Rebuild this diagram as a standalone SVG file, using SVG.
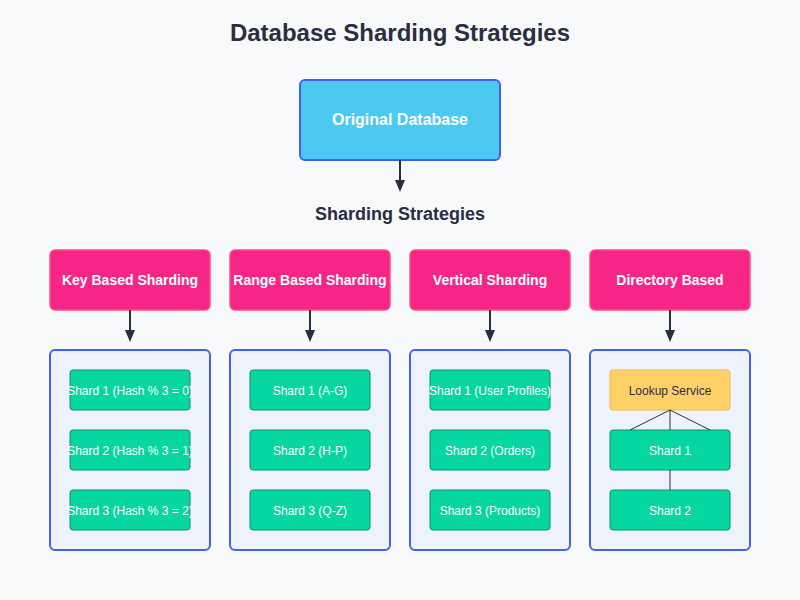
<svg xmlns="http://www.w3.org/2000/svg" width="800" height="600" viewBox="0 0 800 600">
<defs>
<marker id="arrow" viewBox="0 0 12 10" refX="10" refY="5" markerWidth="12" markerHeight="10" orient="auto-start-reverse" markerUnits="userSpaceOnUse">
<path d="M0,0 L12,5 L0,10 z" fill="#2b2d42"/>
</marker>
<style>
text{font-family:"Liberation Sans",Arial,sans-serif;text-anchor:middle;dominant-baseline:central}
.title{font-size:24px;font-weight:bold;fill:#2b2d42}
.sub{font-size:18px;font-weight:bold;fill:#2b2d42}
.orig{fill:#4cc9f0;stroke:#4361ee;stroke-width:2}
.origt{font-size:16px;font-weight:bold;fill:#ffffff}
.strat{fill:#f72585;stroke:#ff4d80;stroke-width:1.5}
.stratt{font-size:14px;font-weight:bold;fill:#ffffff}
.cont{fill:#edf2fb;stroke:#4361ee;stroke-width:2}
.shard{fill:#06d6a0;stroke:#059669;stroke-width:1}
.shardt{font-size:12px;fill:#ffffff}
.look{fill:#ffd166;stroke:#f4b942;stroke-width:1}
.lookt{font-size:12px;fill:#2b2d42}
.conn{stroke:#2b2d42;stroke-width:2;fill:none}
.thin{stroke:#2b2d42;stroke-width:1;fill:none}
</style>
</defs>
<rect width="800" height="600" fill="#f8f9fa"/>
<text class="title" x="400" y="32">Database Sharding Strategies</text>
<text class="sub" x="400" y="214">Sharding Strategies</text>

<g id="original">
<rect class="orig" x="300" y="80" width="200" height="80" rx="5"/>
<text class="origt" x="400" y="119.5">Original Database</text>
</g>

<g id="key-based">
<rect class="strat" x="50" y="250" width="160" height="60" rx="5"/>
<text class="stratt" x="130" y="280">Key Based Sharding</text>
</g>
<g id="range-based">
<rect class="strat" x="230" y="250" width="160" height="60" rx="5"/>
<text class="stratt" x="310" y="280">Range Based Sharding</text>
</g>
<g id="vertical">
<rect class="strat" x="410" y="250" width="160" height="60" rx="5"/>
<text class="stratt" x="490" y="280">Vertical Sharding</text>
</g>
<g id="directory">
<rect class="strat" x="590" y="250" width="160" height="60" rx="5"/>
<text class="stratt" x="670" y="280">Directory Based</text>
</g>

<g id="key-container">
<rect class="cont" x="50" y="350" width="160" height="200" rx="5"/>
<rect class="shard" x="70" y="370" width="120" height="40" rx="3"/>
<text class="shardt" x="130" y="391">Shard 1 (Hash % 3 = 0)</text>
<rect class="shard" x="70" y="430" width="120" height="40" rx="3"/>
<text class="shardt" x="130" y="451">Shard 2 (Hash % 3 = 1)</text>
<rect class="shard" x="70" y="490" width="120" height="40" rx="3"/>
<text class="shardt" x="130" y="511">Shard 3 (Hash % 3 = 2)</text>
</g>
<g id="range-container">
<rect class="cont" x="230" y="350" width="160" height="200" rx="5"/>
<rect class="shard" x="250" y="370" width="120" height="40" rx="3"/>
<text class="shardt" x="310" y="391">Shard 1 (A-G)</text>
<rect class="shard" x="250" y="430" width="120" height="40" rx="3"/>
<text class="shardt" x="310" y="451">Shard 2 (H-P)</text>
<rect class="shard" x="250" y="490" width="120" height="40" rx="3"/>
<text class="shardt" x="310" y="511">Shard 3 (Q-Z)</text>
</g>
<g id="vertical-container">
<rect class="cont" x="410" y="350" width="160" height="200" rx="5"/>
<rect class="shard" x="430" y="370" width="120" height="40" rx="3"/>
<text class="shardt" x="490" y="391">Shard 1 (User Profiles)</text>
<rect class="shard" x="430" y="430" width="120" height="40" rx="3"/>
<text class="shardt" x="490" y="451">Shard 2 (Orders)</text>
<rect class="shard" x="430" y="490" width="120" height="40" rx="3"/>
<text class="shardt" x="490" y="511">Shard 3 (Products)</text>
</g>
<g id="directory-container">
<rect class="cont" x="590" y="350" width="160" height="200" rx="5"/>
<rect class="look" x="610" y="370" width="120" height="40" rx="3"/>
<text class="lookt" x="670" y="391">Lookup Service</text>
<rect class="shard" x="610" y="430" width="120" height="40" rx="3"/>
<text class="shardt" x="670" y="451">Shard 1</text>
<rect class="shard" x="610" y="490" width="120" height="40" rx="3"/>
<text class="shardt" x="670" y="511">Shard 2</text>
</g>

<g id="connectors">
<line class="conn" x1="400" y1="160" x2="400" y2="190" marker-end="url(#arrow)"/>
<line class="conn" x1="130" y1="310" x2="130" y2="340" marker-end="url(#arrow)"/>
<line class="conn" x1="310" y1="310" x2="310" y2="340" marker-end="url(#arrow)"/>
<line class="conn" x1="490" y1="310" x2="490" y2="340" marker-end="url(#arrow)"/>
<line class="conn" x1="670" y1="310" x2="670" y2="340" marker-end="url(#arrow)"/>
<line class="thin" x1="670" y1="410" x2="630" y2="430"/>
<line class="thin" x1="670" y1="410" x2="670" y2="430"/>
<line class="thin" x1="670" y1="410" x2="710" y2="430"/>
<line class="thin" x1="670" y1="470" x2="670" y2="490"/>
</g>
</svg>
